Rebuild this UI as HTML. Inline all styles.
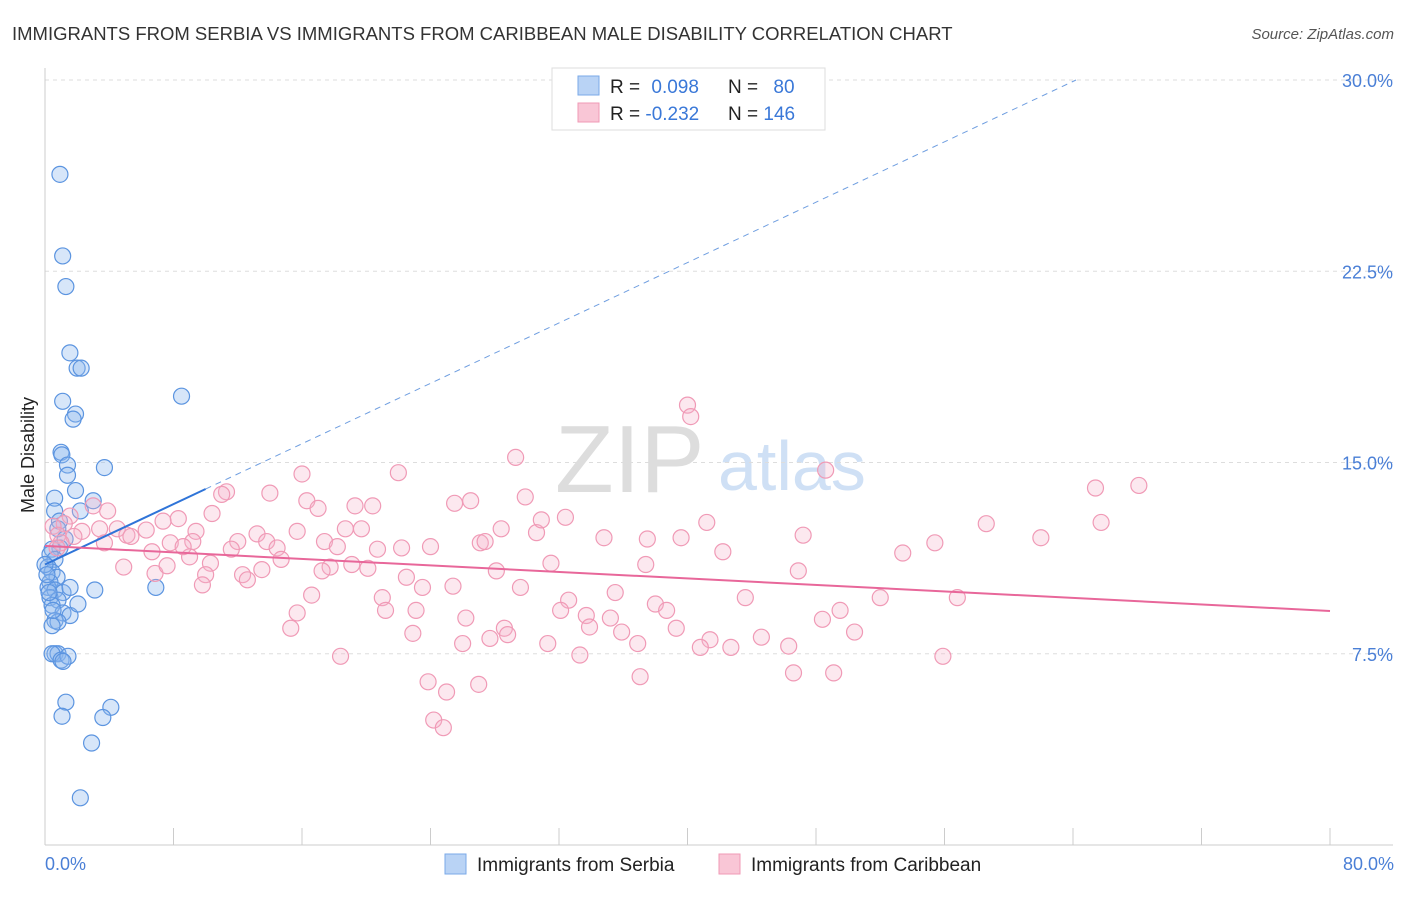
<!DOCTYPE html>
<html><head><meta charset="utf-8"><style>
body{margin:0;background:#fff;font-family:"Liberation Sans",sans-serif;}
svg text{font-family:"Liberation Sans",sans-serif;}
</style></head><body>
<svg id="chart" width="1406" height="892" xmlns="http://www.w3.org/2000/svg">
<text x="12" y="40" font-size="18.5" fill="#333">IMMIGRANTS FROM SERBIA VS IMMIGRANTS FROM CARIBBEAN MALE DISABILITY CORRELATION CHART</text>
<text x="1394" y="39" font-size="15" fill="#555" font-style="italic" text-anchor="end">Source: ZipAtlas.com</text>
<g>
<text x="555" y="492" font-size="96" fill="#ddd" font-family="Liberation Serif,serif">ZIP</text>
<text x="718" y="490" font-size="70" fill="#cfe0f5">atlas</text>
</g>
<g id="grid"></g>
<g id="axes"></g>
<g id="marks"></g>
<text transform="translate(34,455) rotate(-90)" font-size="18" fill="#222" text-anchor="middle">Male Disability</text>
<text x="45" y="870" font-size="18" fill="#4a7fd6">0.0%</text>
<text x="1394" y="870" font-size="18" fill="#4a7fd6" text-anchor="end">80.0%</text>
<g>
<rect x="552" y="68" width="273" height="62" fill="#fff" stroke="#ddd"/>
<rect x="578" y="76" width="21" height="19" fill="#b9d3f5" stroke="#7aaae8"/>
<rect x="578" y="103" width="21" height="19" fill="#f9c6d6" stroke="#f09ab6"/>
<text x="610" y="93" font-size="19" fill="#222">R = <tspan fill="#3a78d8" dx="6">0.098</tspan></text>
<text x="728" y="93" font-size="19" fill="#222">N = <tspan fill="#3a78d8" dx="10">80</tspan></text>
<text x="610" y="120" font-size="19" fill="#222">R = <tspan fill="#3a78d8">-0.232</tspan></text>
<text x="728" y="120" font-size="19" fill="#222">N = <tspan fill="#3a78d8">146</tspan></text>
</g>
<g>
<rect x="445" y="854" width="21" height="20" fill="#b9d3f5" stroke="#7aaae8"/>
<text x="477" y="871" font-size="19" fill="#222">Immigrants from Serbia</text>
<rect x="719" y="854" width="21" height="20" fill="#f9c6d6" stroke="#f09ab6"/>
<text x="751" y="871" font-size="19" fill="#222">Immigrants from Caribbean</text>
</g>
</svg>
<script>
const yTicks=[7.5,15,22.5,30];
const yTickLabels=["7.5%","15.0%","22.5%","30.0%"];
const xTicks=[0,8,16,24,32,40,48,56,64,72,80];
const serbiaX=[0.93,1.1,1.3,1.55,2.0,2.25,8.5,1.1,1.9,1.75,1.0,1.05,1.4,1.4,3.7,1.9,0.6,3.0,2.2,0.6,0.9,0.8,1.25,0.93,0.44,0.31,0.62,0.19,0.44,0.75,0.31,0.19,0.62,1.12,0.31,0.81,0.44,1.12,1.56,0.62,0.81,0.44,0,0.12,0.25,0.5,3.1,1.56,2.05,6.9,0.62,0.81,0.44,1.0,1.43,1.12,1.3,4.1,1.06,3.6,2.9,2.2];
const serbiaY=[26.3,23.1,21.9,19.3,18.7,18.7,17.6,17.4,16.9,16.7,15.4,15.3,14.9,14.5,14.8,13.9,13.6,13.5,13.1,13.1,12.7,12.4,12.0,11.65,11.6,11.4,11.2,10.9,10.7,10.5,10.3,10.1,10.0,9.9,9.7,9.6,9.4,9.1,9.0,8.8,8.75,8.6,11.0,10.6,9.9,9.2,10.0,10.1,9.45,10.1,7.5,7.5,7.5,7.25,7.4,7.2,5.6,5.4,5.05,5.0,4.0,1.85];
const caribX=[40.0,40.2,29.3,22.0,16.0,48.6,65.4,68.1,11.3,11.0,14.0,16.3,17.0,19.3,20.4,25.5,26.5,29.9,10.4,8.3,7.35,3.9,3.0,1.56,1.2,0.5,0.8,2.3,3.4,4.5,5.1,6.3,5.35,3.7,1.8,1.0,0.75,6.66,7.8,9.4,9.2,9.0,8.6,12.0,11.6,13.2,13.8,14.45,15.7,17.4,18.2,18.7,19.7,20.7,22.2,24.0,27.1,27.4,28.4,30.6,30.9,32.4,34.8,37.5,39.6,41.2,42.2,47.2,53.4,55.4,58.6,62.0,65.75,4.9,6.85,7.6,10.3,10.0,9.8,12.3,12.6,13.5,14.7,17.75,17.25,19.1,20.1,22.5,23.5,25.4,28.1,29.6,31.5,37.4,35.5,46.9,56.8,52.0,43.6,16.6,21.0,23.1,15.7,21.2,26.2,32.6,32.1,33.7,33.9,35.2,38.0,38.7,48.4,49.5,15.3,22.9,28.6,28.8,26.0,27.7,31.3,35.9,36.9,39.3,41.4,40.8,42.7,44.6,46.3,50.4,18.4,33.3,55.9,23.85,25.0,27.0,37.05,46.6,49.1,24.2,24.8];
const caribY=[17.25,16.8,15.2,14.6,14.55,14.7,14.0,14.1,13.85,13.75,13.8,13.5,13.2,13.3,13.3,13.4,13.5,13.65,13.0,12.8,12.7,13.1,13.3,12.9,12.6,12.5,12.15,12.3,12.4,12.4,12.15,12.35,12.1,11.85,12.1,11.85,11.65,11.5,11.85,12.3,11.9,11.3,11.7,11.9,11.6,12.2,11.9,11.65,12.3,11.9,11.7,12.4,12.4,11.6,11.65,11.7,11.85,11.9,12.4,12.25,12.75,12.85,12.05,12.0,12.05,12.65,11.5,12.15,11.45,11.85,12.6,12.05,12.65,10.9,10.65,10.95,11.05,10.6,10.2,10.6,10.4,10.8,11.2,10.9,10.75,11.0,10.85,10.5,10.1,10.15,10.75,10.1,11.05,11.0,9.9,10.75,9.7,9.7,9.7,9.8,9.7,9.2,9.1,9.2,8.9,9.6,9.2,9.0,8.55,8.9,9.45,9.2,8.85,9.2,8.5,8.3,8.5,8.25,7.9,8.1,7.9,8.35,7.9,8.5,8.05,7.75,7.75,8.15,7.8,8.35,7.4,7.45,7.4,6.4,6.0,6.3,6.6,6.75,6.75,4.9,4.6];
const serbiaTrend=[11.0,0.296];
const caribTrend=[11.73,-0.0319];

const NS="http://www.w3.org/2000/svg";
const X0=45,X1=1330,Y0=845,PXY=25.5;
function sx(v){return X0+(X1-X0)*v/80;}
function sy(v){return Y0-v*PXY;}
function mk(tag,attrs,parent){const e=document.createElementNS(NS,tag);for(const k in attrs)e.setAttribute(k,attrs[k]);parent.appendChild(e);return e;}
const grid=document.getElementById('grid'),axes=document.getElementById('axes'),marks=document.getElementById('marks');
yTicks.forEach((t,i)=>{
  const l=mk('line',{x1:X0,x2:1393,y1:sy(t),y2:sy(t),stroke:'#ddd','stroke-dasharray':'4,4'},grid);
  
  
  const tx=mk('text',{x:1393,y:sy(t)+7,'font-size':18,fill:'#4a7fd6','text-anchor':'end'},axes);
  tx.textContent=yTickLabels[i];
  
  
});
const ya=mk('line',{x1:X0,x2:X0,y1:68,y2:Y0,stroke:'#ccc'},axes);


const xa=mk('line',{x1:X0,x2:1393,y1:Y0,y2:Y0,stroke:'#ccc'},axes);


xTicks.forEach(t=>{
  const l=mk('line',{x1:sx(t),x2:sx(t),y1:828,y2:Y0,stroke:'#ccc'},axes);
  
  
});
serbiaX.forEach((x,i)=>{
  const c=mk('circle',{cx:sx(x),cy:sy(serbiaY[i]),r:8,fill:'rgba(140,182,238,0.35)',stroke:'#5b94e0','stroke-width':1.2},marks);
  
  
});
caribX.forEach((x,i)=>{
  const c=mk('circle',{cx:sx(x),cy:sy(caribY[i]),r:8,fill:'rgba(246,180,203,0.3)',stroke:'#f09ab6','stroke-width':1.2},marks);
  
  
});
const sEnd=10;
const st=mk('line',{x1:sx(0),y1:sy(serbiaTrend[0]),x2:sx(sEnd),y2:sy(serbiaTrend[0]+serbiaTrend[1]*sEnd),stroke:'#2f74d8','stroke-width':2},marks);


const xe=(30-serbiaTrend[0])/serbiaTrend[1];
const sd=mk('line',{x1:sx(sEnd),y1:sy(serbiaTrend[0]+serbiaTrend[1]*sEnd),x2:sx(xe),y2:sy(30),stroke:'#6f9ee0','stroke-width':1,'stroke-dasharray':'6,5'},marks);


const ct=mk('line',{x1:sx(0),y1:sy(caribTrend[0]),x2:sx(80),y2:sy(caribTrend[0]+caribTrend[1]*80),stroke:'#e8679a','stroke-width':2},marks);


</script>
</body></html>
